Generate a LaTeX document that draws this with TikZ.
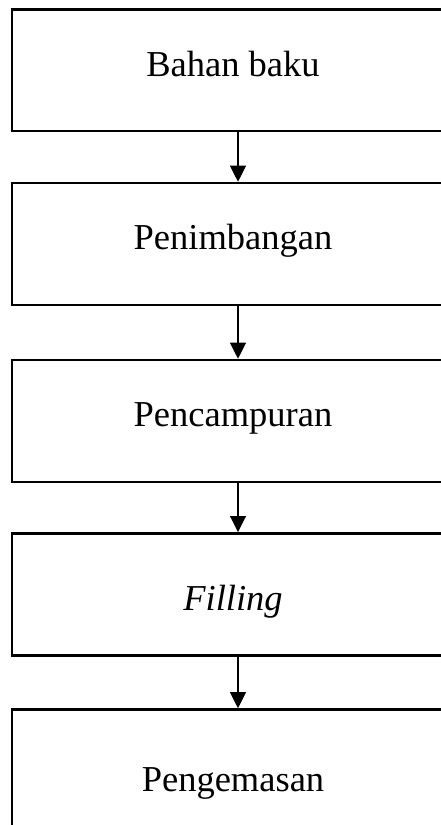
\documentclass[tikz,border=0pt]{standalone}
\usepackage{fontspec}
\setmainfont{Liberation Serif}
\usetikzlibrary{arrows.meta}
\begin{document}
\begin{tikzpicture}[x=1pt,y=-1pt,
  stepbox/.style={draw=black,line width=2.6pt,rectangle,inner sep=0pt,
    minimum width=452pt,minimum height=122pt},
  lbl/.style={anchor=base,inner sep=0pt,font=\fontsize{36.5}{40}\selectfont},
  arr/.style={line width=1.1pt,-{Triangle[width=16pt,length=16pt]}}]
\useasboundingbox (0,0) rectangle (441,825);
\clip (0,0) rectangle (441,825);
\fill[white] (0,0) rectangle (441,825);
\node[stepbox,minimum height=121.5pt] (b1) at (238,70.25) {};
\node[stepbox] (b2) at (238,244) {};
\node[stepbox] (b3) at (238,421) {};
\node[stepbox,minimum height=122.4pt] (b4) at (238,594.5) {};
\node[stepbox] (b5) at (238,770.5) {};
\node[lbl] (t1) at (233,76) {Bahan baku};
\node[lbl] (t2) at (233,249.3) {Penimbangan};
\node[lbl] (t3) at (233,426.7) {Pencampuran};
\node[lbl] (t4) at (233,610) {\itshape Filling};
\node[lbl] (t5) at (233,791.7) {Pengemasan};
\draw[arr] (b1.south) -- (b2.north);
\draw[arr] (b2.south) -- (b3.north);
\draw[arr] (b3.south) -- (b4.north);
\draw[arr] (b4.south) -- (b5.north);
\end{tikzpicture}
\end{document}
